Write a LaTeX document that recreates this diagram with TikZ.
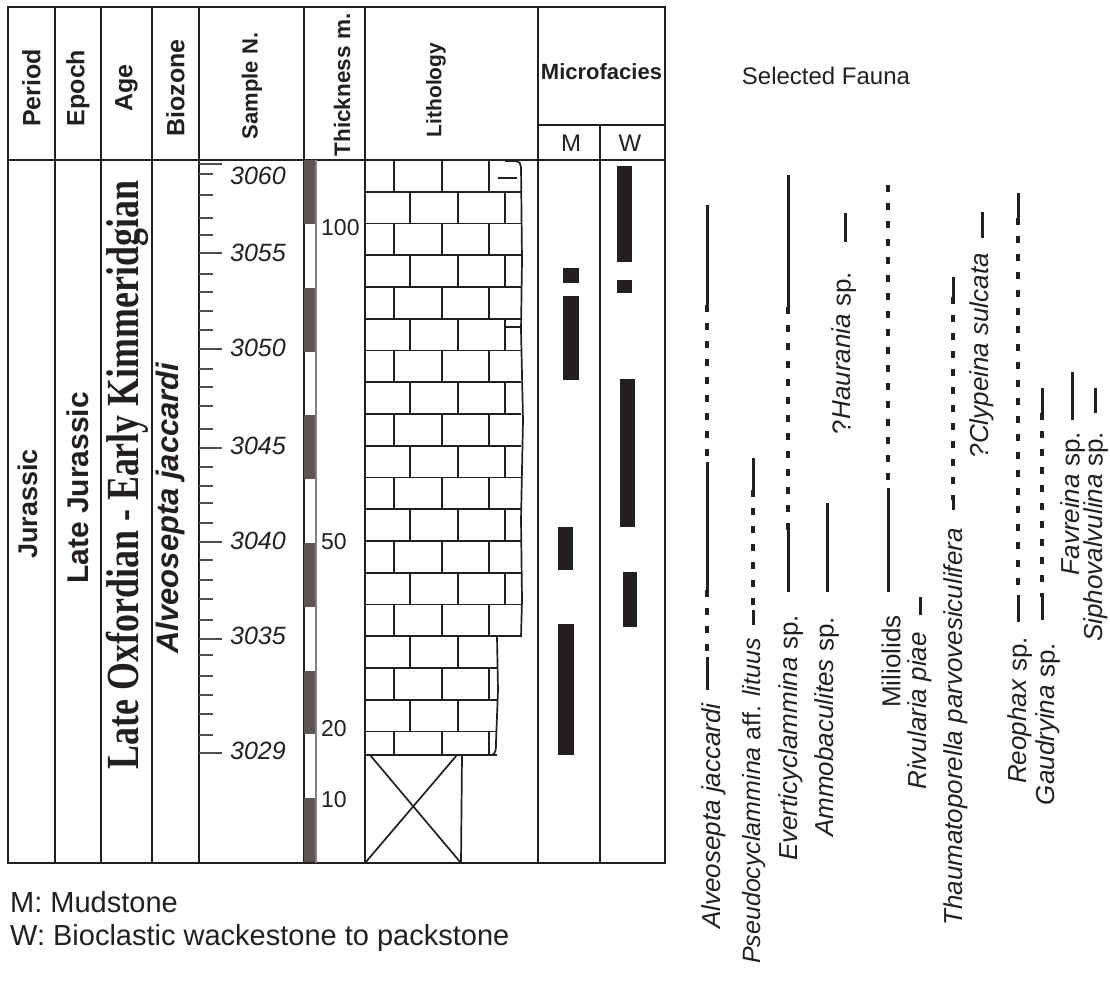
\documentclass[tikz,border=0pt]{standalone}
\usepackage{fontspec}
\setmainfont{Liberation Sans}
\newfontfamily\condserif[FakeStretch=0.78]{Liberation Serif}
\newcommand{\fsz}[1]{\fontsize{#1}{#1}\selectfont}
\definecolor{ink}{HTML}{231F20}
\definecolor{scalebar}{HTML}{5E5653}

\begin{document}
\begin{tikzpicture}[x=1pt, y=-1pt,
        every node/.style={inner sep=0pt, text=ink},
        tabline/.style={draw=ink, line width=2pt},
        sampletick/.style={draw=ink!80, line width=1.3pt},
        brick/.style={draw=ink, line width=1.7pt},
        head/.style={rotate=90, font=\fsz{25}\bfseries},
        sampleno/.style={font=\fsz{25}\itshape},
        metre/.style={anchor=west, font=\fsz{23}},
        facies/.style={fill=ink},
        taxon/.style={rotate=90, anchor=east, font=\fsz{26}},
        taxrange/.style={draw=ink, line width=3pt},
        taxgap/.style={draw=ink, line width=4pt, dash pattern=on 7pt off 11pt}]

    \useasboundingbox (0,0) rectangle (1110,981);

    % table frame
    \draw[tabline] (8,7) rectangle (665,863);
    \foreach \x in {55,101,152,199,304,365,538}
        \draw[tabline] (\x,7) -- (\x,863);
    \draw[tabline] (8,160) -- (665,160);
    \draw[tabline] (538,125) -- (665,125);
    \draw[tabline] (600,125) -- (600,863);

    \node[head] (period) at (31.5,88) {Period};
    \node[head] (epoch) at (78,88) {Epoch};
    \node[head] (age) at (126.5,88) {Age};
    \node[head] (biozone) at (175.5,88) {Biozone};
    \node[head, font=\fsz{22}\bfseries] (sampleN) at (252,86) {Sample N.};
    \node[head, font=\fsz{22.5}\bfseries] (thickness) at (342,85) {Thickness m.};
    \node[head, font=\fsz{21}\bfseries] (lithology) at (436,90) {Lithology};
    \node[anchor=base, font=\fsz{22}\bfseries] (microfacies) at (601.5,80) {Microfacies};
    \node[anchor=base, font=\fsz{24}] (mhead) at (571,152) {M};
    \node[anchor=base, font=\fsz{24}] (whead) at (630,152) {W};

    \node[rotate=90, font=\fsz{27}\bfseries] (jurassic) at (28,504) {Jurassic};
    \node[rotate=90, font=\fsz{30}\bfseries] (latejur) at (78,488) {Late Jurassic};
    \node[rotate=90, font=\condserif\fsz{46}\bfseries] (stage) at (127,475) {Late Oxfordian - Early Kimmeridgian};
    \node[rotate=90, font=\fsz{31}\bfseries\itshape] (zone) at (170,508) {Alveosepta jaccardi};

    % samples
    \foreach \y in {174,195,218,235,274,292,311,330,369,387,406,429,467,486,503,523,560,580,599,620,655,676,695,714,735}
        \draw[sampletick] (199,\y) -- (213,\y);
    \foreach \y/\ly/\n in {164/176/3060,253/253/3055,349/348/3050,448/446/3045,542/541/3040,639/636/3035,753/751/3029}{
        \draw[sampletick] (199,\y) -- (222,\y);
        \node[sampleno] (s\n) at (258,\ly) {\n};
    }

    % thickness scale
    \foreach \i in {0,2,...,10}
        \fill[scalebar] (304,{862-63.8*(\i+1)}) rectangle (316,{862-63.8*\i});
    \draw[draw=gray, line width=1.2pt] (316,160) -- (316,863);
    \node[metre] (m100) at (321,228) {100};
    \node[metre] (m50) at (321,542) {50};
    \node[metre] (m20) at (321,729) {20};
    \node[metre] (m10) at (321,800) {10};

    % lithology
    \foreach \r in {0,...,18}{
        \pgfmathsetmacro{\ytop}{160+31.75*\r}
        \pgfmathsetmacro{\ybot}{min(160+31.75*(\r+1),755)}
        \pgfmathsetmacro{\xend}{\r<15 ? 521 : 497}
        \pgfmathsetmacro{\xoff}{mod(\r,2)==0 ? 0 : 16}
        \draw[brick] (365,\ybot) -- (\xend,\ybot);
        \foreach \x in {394,442,489}{
            \pgfmathsetmacro{\xb}{\x+\xoff}
            \pgfmathtruncatemacro{\brickok}{\xb<\xend-4}
            \ifnum\brickok=1 \draw[brick] (\xb,\ytop) -- (\xb,\ybot); \fi
        }
    }
    \draw[brick] (505,161) -- (516,161) to[out=0,in=90] (521,167) -- (522,260) -- (521,330)
        -- (523,420) -- (521,520) -- (522,600) -- (521,637);
    \draw[brick] (497,637) -- (498,690) -- (496,742) to[out=-90,in=0] (491,755);
    \draw[brick] (498,178) -- (517,178);
    \draw[brick] (505,327) -- (522,327);
    \draw[brick] (462,755) -- (461,863);
    \draw[brick] (370,755) -- (461,863);
    \draw[brick] (457,755) -- (365,863);

    % microfacies
    \foreach \xa/\ya/\xb/\yb in {563/268/579/283,563/296/579/380,558/527/573/570,558/624/574/755,
            617/166/632/262,617/280/632/293,620/379/635/527,623/572/637/627}
        \fill[facies] (\xa,\ya) rectangle (\xb,\yb);

    % fauna
    \node[font=\fsz{24}] (fauna) at (826,76) {Selected Fauna};
    \foreach \x/\a/\b/\kind in {707/205/305/taxrange,707/305/462/taxgap,707/462/590/taxrange,
            707/590/657/taxgap,707/657/690/taxrange,
            753/458/490/taxrange,753/490/610/taxgap,753/610/625/taxrange,
            788/175/307/taxrange,788/307/530/taxgap,788/530/592/taxrange,
            827/503/592/taxrange,
            845/213/242/taxrange,
            888/185/488/taxgap,888/488/592/taxrange,
            920/597/615/taxrange,
            953/277/297/taxrange,953/297/500/taxgap,953/500/510/taxrange,
            982/212/238/taxrange,
            1018/193/218/taxrange,1018/218/595/taxgap,1018/595/622/taxrange,
            1042/388/413/taxrange,1042/413/597/taxgap,1042/597/620/taxrange,
            1072/372/420/taxrange,
            1095/388/413/taxrange}
        \draw[\kind] (\x,\a) -- (\x,\b);

    \node[taxon] (alveo) at (714,703) {\itshape Alveosepta jaccardi};
    \node[taxon, font=\fsz{25}] (pseudo) at (754,638) {\textit{Pseudocyclammina} aff. \textit{lituus}};
    \node[taxon] (everti) at (791,615) {\textit{Everticyclammina} sp.};
    \node[taxon] (ammob) at (827,617) {\textit{Ammobaculites} sp.};
    \node[taxon] (haur) at (844,272) {?\textit{Haurania} sp.};
    \node[taxon] (milio) at (891,615) {Miliolids};
    \node[taxon] (rivul) at (920,632) {\itshape Rivularia piae};
    \node[taxon] (thaum) at (956,528) {\itshape Thaumatoporella parvovesiculifera};
    \node[taxon] (clyp) at (982,253) {\itshape ?Clypeina sulcata};
    \node[taxon] (reoph) at (1020,637) {\textit{Reophax} sp.};
    \node[taxon] (gaud) at (1048,643) {\textit{Gaudryina} sp.};
    \node[taxon] (favr) at (1073,432) {\textit{Favreina} sp.};
    \node[taxon] (sipho) at (1096,432) {\textit{Siphovalvulina} sp.};

    % legend
    \node[anchor=base west, font=\fsz{29}] (legm) at (10,912) {M: Mudstone};
    \node[anchor=base west, font=\fsz{29}] (legw) at (10,945) {W: Bioclastic wackestone to packstone};
\end{tikzpicture}
\end{document}
